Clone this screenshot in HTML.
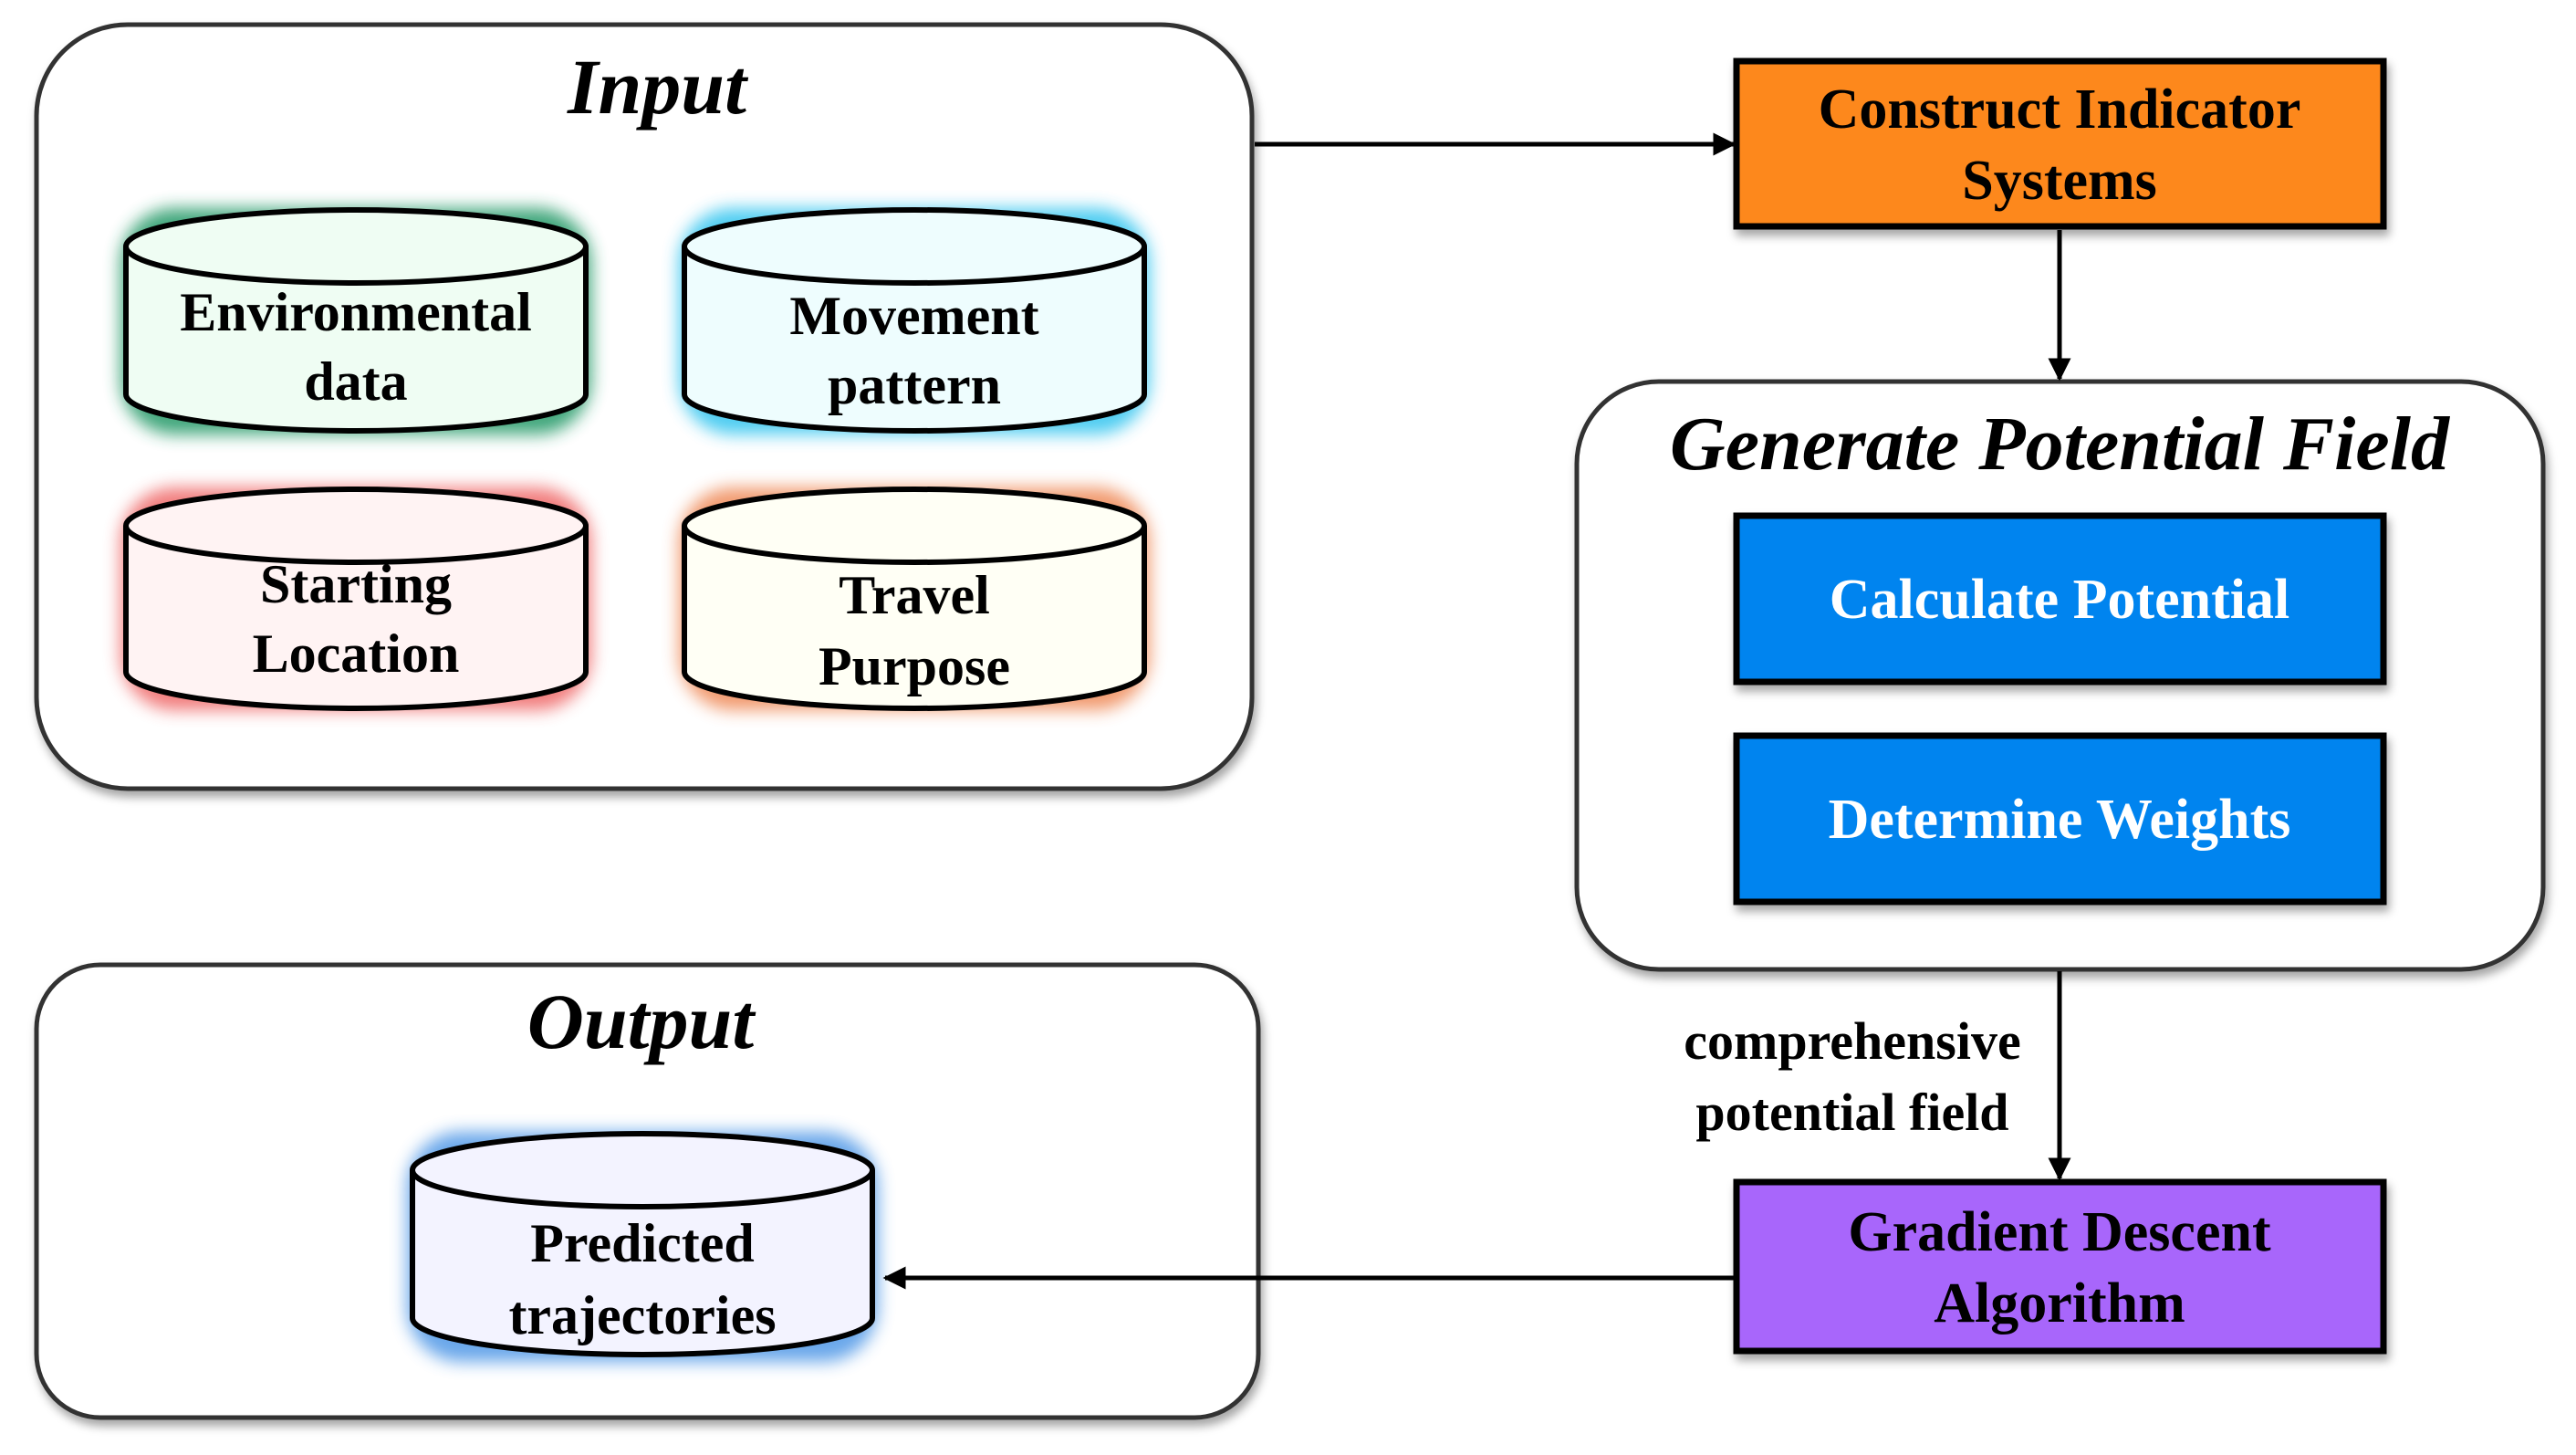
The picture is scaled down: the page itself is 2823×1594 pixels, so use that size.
<!DOCTYPE html>
<html><head><meta charset="utf-8"><style>
html,body{margin:0;padding:0;background:#fff;}
svg{display:block;}
text{font-family:"Liberation Serif",serif;font-weight:bold;fill:#000;}
</style></head><body>
<svg width="2823" height="1594" viewBox="0 0 2823 1594" xmlns="http://www.w3.org/2000/svg">
<defs>
<filter id="sh" x="-5%" y="-5%" width="115%" height="120%"><feDropShadow dx="3" dy="7" stdDeviation="5" flood-color="#000" flood-opacity="0.35"/></filter>
<filter id="gl" x="-20%" y="-20%" width="140%" height="140%"><feGaussianBlur stdDeviation="9"/></filter>
<marker id="ah" viewBox="0 0 10 10" refX="9" refY="5" markerWidth="5" markerHeight="5" orient="auto"><path d="M0,0 L10,5 L0,10 z" fill="#000"/></marker>
</defs>

<!-- Input box -->
<rect x="40" y="27" width="1332" height="837" rx="100" fill="#fff" stroke="#333" stroke-width="5" filter="url(#sh)"/>
<text x="720" y="124" font-size="86" font-style="italic" text-anchor="middle">Input</text>

<!-- cylinders -->
<g>
 <!-- helper: x,y top, w, h -->
 <g>
  <rect x="132" y="228" width="516" height="248" rx="60" fill="#2e9e6e" filter="url(#gl)" opacity="0.9"/>
  <path d="M138,270 L138,432 A252,40 0 0 0 642,432 L642,270" fill="#effdf3" stroke="#000" stroke-width="6"/>
  <ellipse cx="390" cy="270" rx="252" ry="40" fill="#effdf3" stroke="#000" stroke-width="6"/>
  <text x="390" y="362" font-size="60" text-anchor="middle">Environmental</text>
  <text x="390" y="438" font-size="60" text-anchor="middle">data</text>
 </g>
 <g>
  <rect x="744" y="228" width="516" height="248" rx="60" fill="#3cc8f0" filter="url(#gl)" opacity="0.9"/>
  <path d="M750,270 L750,432 A252,40 0 0 0 1254,432 L1254,270" fill="#eefdfe" stroke="#000" stroke-width="6"/>
  <ellipse cx="1002" cy="270" rx="252" ry="40" fill="#eefdfe" stroke="#000" stroke-width="6"/>
  <text x="1002" y="366" font-size="60" text-anchor="middle">Movement</text>
  <text x="1002" y="442" font-size="60" text-anchor="middle">pattern</text>
 </g>
 <g>
  <rect x="132" y="534" width="516" height="244" rx="60" fill="#f07070" filter="url(#gl)" opacity="0.9"/>
  <path d="M138,576 L138,736 A252,40 0 0 0 642,736 L642,576" fill="#fff3f3" stroke="#000" stroke-width="6"/>
  <ellipse cx="390" cy="576" rx="252" ry="40" fill="#fff3f3" stroke="#000" stroke-width="6"/>
  <text x="390" y="660" font-size="60" text-anchor="middle">Starting</text>
  <text x="390" y="736" font-size="60" text-anchor="middle">Location</text>
 </g>
 <g>
  <rect x="744" y="534" width="516" height="244" rx="60" fill="#f09060" filter="url(#gl)" opacity="0.9"/>
  <path d="M750,576 L750,736 A252,40 0 0 0 1254,736 L1254,576" fill="#fffff5" stroke="#000" stroke-width="6"/>
  <ellipse cx="1002" cy="576" rx="252" ry="40" fill="#fffff5" stroke="#000" stroke-width="6"/>
  <text x="1002" y="672" font-size="60" text-anchor="middle">Travel</text>
  <text x="1002" y="750" font-size="60" text-anchor="middle">Purpose</text>
 </g>
</g>

<!-- Output box -->
<rect x="40" y="1057" width="1339" height="496" rx="70" fill="#fff" stroke="#333" stroke-width="5" filter="url(#sh)"/>
<text x="702" y="1148" font-size="86" font-style="italic" text-anchor="middle">Output</text>
<g>
  <rect x="446" y="1240" width="516" height="252" rx="60" fill="#5a9ee8" filter="url(#gl)" opacity="0.9"/>
  <path d="M452,1282 L452,1444 A252,40 0 0 0 956,1444 L956,1282" fill="#f3f3ff" stroke="#000" stroke-width="6"/>
  <ellipse cx="704" cy="1282" rx="252" ry="40" fill="#f3f3ff" stroke="#000" stroke-width="6"/>
  <text x="704" y="1382" font-size="60" text-anchor="middle">Predicted</text>
  <text x="704" y="1461" font-size="60" text-anchor="middle">trajectories</text>
</g>

<!-- Orange box -->
<rect x="1903" y="67" width="709" height="181" fill="#fd881f" stroke="#000" stroke-width="7" filter="url(#sh)"/>
<text x="2257" y="140" font-size="62" text-anchor="middle">Construct Indicator</text>
<text x="2257" y="218" font-size="62" text-anchor="middle">Systems</text>

<!-- Generate box -->
<rect x="1728" y="418" width="1059" height="644" rx="90" fill="#fff" stroke="#333" stroke-width="5" filter="url(#sh)"/>
<text x="2257" y="514" font-size="84" font-style="italic" text-anchor="middle">Generate Potential Field</text>
<rect x="1903" y="565" width="709" height="182" fill="#0084ef" stroke="#000" stroke-width="7" filter="url(#sh)"/>
<text x="2257" y="677" font-size="62" text-anchor="middle" style="fill:#fff">Calculate Potential</text>
<rect x="1903" y="806" width="709" height="182" fill="#0084ef" stroke="#000" stroke-width="7" filter="url(#sh)"/>
<text x="2257" y="918" font-size="62" text-anchor="middle" style="fill:#fff">Determine Weights</text>

<!-- Gradient box -->
<rect x="1903" y="1295" width="709" height="185" fill="#a866fb" stroke="#000" stroke-width="7" filter="url(#sh)"/>
<text x="2257" y="1370" font-size="62" text-anchor="middle">Gradient Descent</text>
<text x="2257" y="1448" font-size="62" text-anchor="middle">Algorithm</text>

<!-- label -->
<text x="2030" y="1160" font-size="58" text-anchor="middle">comprehensive</text>
<text x="2030" y="1238" font-size="58" text-anchor="middle">potential field</text>

<!-- connectors -->
<line x1="1375" y1="158" x2="1900" y2="158" stroke="#000" stroke-width="5" marker-end="url(#ah)"/>
<line x1="2257" y1="252" x2="2257" y2="415" stroke="#000" stroke-width="5" marker-end="url(#ah)"/>
<line x1="2257" y1="1064" x2="2257" y2="1291" stroke="#000" stroke-width="5" marker-end="url(#ah)"/>
<line x1="1906" y1="1400" x2="970" y2="1400" stroke="#000" stroke-width="5" marker-end="url(#ah)"/>
</svg>
</body></html>
